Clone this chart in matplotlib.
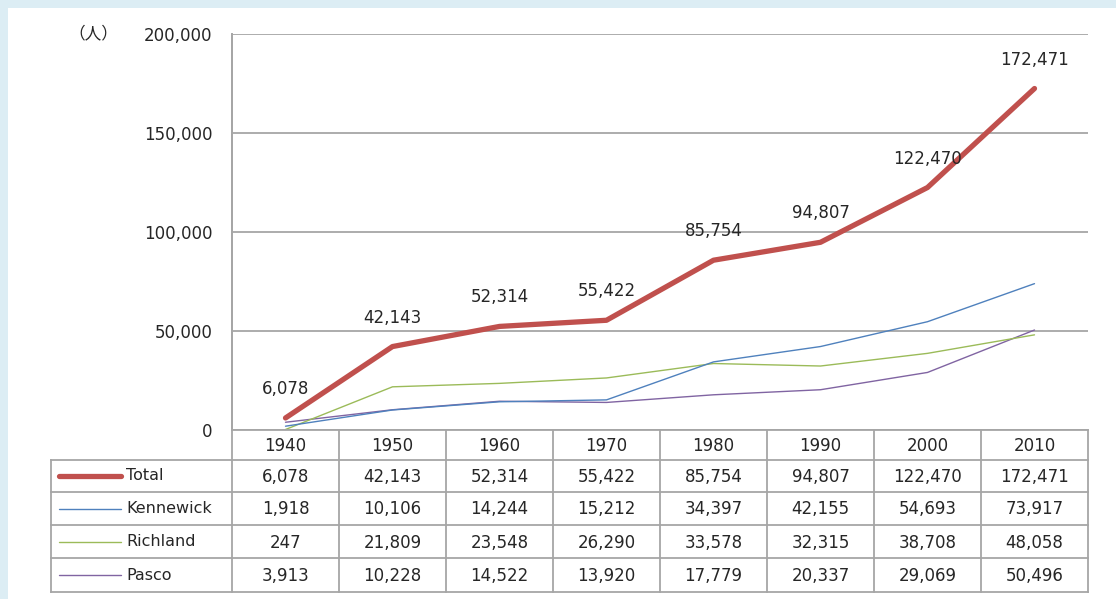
import matplotlib.pyplot as plt
from matplotlib.patches import Rectangle

# データ
years = ["1940", "1950", "1960", "1970", "1980", "1990", "2000", "2010"]
total = [6078, 42143, 52314, 55422, 85754, 94807, 122470, 172471]
kennewick = [1918, 10106, 14244, 15212, 34397, 42155, 54693, 73917]
richland = [247, 21809, 23548, 26290, 33578, 32315, 38708, 48058]
pasco = [3913, 10228, 14522, 13920, 17779, 20337, 29069, 50496]

series_names = ["Total", "Kennewick", "Richland", "Pasco"]
series_values = [total, kennewick, richland, pasco]
series_colors = ["#c0504d", "#4f81bd", "#9bbb59", "#8064a2"]
series_widths = [3.8, 1.0, 1.0, 1.0]

W, H = 1116, 599
grid_col = "#a6a6a6"
txt_col = "#262626"
fs = 12
plt.rcParams['font.family'] = ['DejaVu Sans', 'Noto Sans CJK JP']

fig = plt.figure(figsize=(W / 100, H / 100), dpi=100)
fig.patch.set_facecolor("#dcedf4")
fig.patches.append(Rectangle((8 / W, 0), 1, 1 - 8 / H, transform=fig.transFigure,
                             facecolor="white", edgecolor="none", zorder=-10))

# グラフ領域 (ピクセル座標)
left, right, top, bottom = 232, 1088, 34, 430
ax = fig.add_axes([left / W, 1 - bottom / H, (right - left) / W, (bottom - top) / H])
ax.set_facecolor("none")
x = list(range(len(years)))
ax.set_xlim(-0.5, len(years) - 0.5)
ax.set_ylim(0, 200000)
yticks = [0, 50000, 100000, 150000, 200000]
ax.set_yticks(yticks)
ax.set_yticklabels([f"{v:,}" for v in yticks], fontsize=fs, color=txt_col)
ax.set_xticks([])
for s in ["top", "right", "bottom"]:
    ax.spines[s].set_visible(False)
ax.spines["left"].set_color(grid_col)
ax.spines["left"].set_linewidth(1.3)
ax.tick_params(axis="y", length=0, pad=14)
ax.grid(axis="y", color=grid_col, linewidth=1.3)
ax.set_axisbelow(True)

for vals, col, lw in reversed(list(zip(series_values, series_colors, series_widths))):
    ax.plot(x, vals, color=col, linewidth=lw, solid_capstyle="round", clip_on=False)

for xi, v in zip(x, total):
    ax.annotate(f"{v:,}", (xi, v), xytext=(0, 29), textcoords="offset pixels",
                ha="center", va="center", fontsize=fs, color=txt_col)

fig.text(93 / W, 1 - 34 / H, "（人）", ha="center", va="center", fontsize=fs,
         color=txt_col, family=['Noto Sans CJK JP', 'DejaVu Sans'])

# データテーブル
tab_left = 51
row_edges = [430, 460, 492, 525, 558, 592]
col_w = (right - left) / len(years)
tax = fig.add_axes([0, 0, 1, 1])
tax.set_xlim(0, W)
tax.set_ylim(H, 0)
tax.axis("off")
tax.patch.set_alpha(0)

lc = dict(color=grid_col, linewidth=1.3)
# 横線
tax.plot([left, right], [row_edges[0]] * 2, **lc)
for y in row_edges[1:]:
    tax.plot([tab_left, right], [y, y], **lc)
# 縦線
tax.plot([left, left], [top, row_edges[-1]], **lc)
tax.plot([tab_left, tab_left], [row_edges[1], row_edges[-1]], **lc)
for i in range(1, len(years) + 1):
    tax.plot([left + i * col_w] * 2, [row_edges[0], row_edges[-1]], **lc)

for i, yr in enumerate(years):
    tax.text(left + (i + 0.5) * col_w, (row_edges[0] + row_edges[1]) / 2 + 1, yr,
             ha="center", va="center", fontsize=fs, color=txt_col)

for r, (name, vals, col, lw) in enumerate(zip(series_names, series_values,
                                              series_colors, series_widths)):
    yc = (row_edges[r + 1] + row_edges[r + 2]) / 2
    tax.plot([59, 121], [yc, yc], color=col, linewidth=lw, solid_capstyle="round")
    tax.text(126, yc, name, ha="left", va="center", fontsize=fs - 0.5, color=txt_col)
    for i, v in enumerate(vals):
        tax.text(left + (i + 0.5) * col_w, yc + 1, f"{v:,}", ha="center", va="center",
                 fontsize=fs, color=txt_col)

fig.savefig("out.png", dpi=100, facecolor=fig.get_facecolor())
